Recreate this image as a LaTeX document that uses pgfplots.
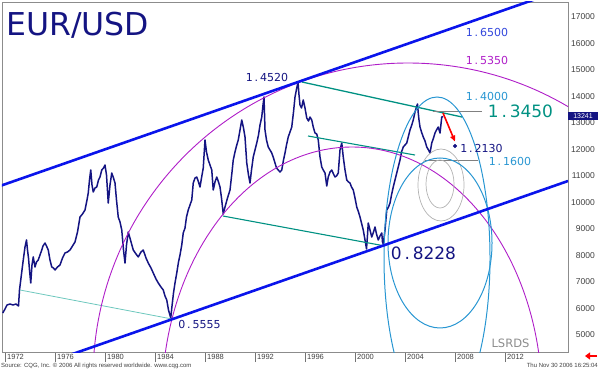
\documentclass[border=0pt]{standalone}
\usepackage{pgfplots}
\pgfplotsset{compat=1.18}
\usepackage{pgfplotstable}
\usepackage{fontspec}
\setmainfont{DejaVu Sans}
\newfontfamily\lib{Liberation Sans}
\usetikzlibrary{arrows.meta}
\definecolor{navy}{RGB}{20,20,130}
\definecolor{chanblue}{RGB}{10,20,235}
\definecolor{mag}{RGB}{175,30,200}
\definecolor{lblue}{RGB}{40,150,210}
\definecolor{teal2}{RGB}{0,145,130}
\definecolor{mint}{RGB}{110,200,190}
\definecolor{lab165}{RGB}{50,70,220}

\pgfplotstableread{
year price
1971.82 5830
1972.00 5981
1972.16 6131
1972.40 6169
1972.64 6131
1972.88 6169
1973.08 6094
1973.16 6698
1973.28 7151
1973.44 7755
1973.60 8321
1973.72 8585
1973.80 8208
1973.88 7906
1973.96 7453
1974.06 6963
1974.16 7642
1974.26 7944
1974.40 7566
1974.52 7755
1974.66 7830
1974.80 8019
1974.94 8208
1975.04 8358
1975.20 8472
1975.32 8358
1975.46 8208
1975.60 7830
1975.74 7566
1975.88 7528
1976.00 7453
1976.20 7566
1976.40 7642
1976.60 7906
1976.80 8095
1977.00 8133
1977.20 8208
1977.40 8358
1977.60 8510
1977.80 8887
1978.00 9453
1978.20 9566
1978.40 9717
1978.56 10094
1978.66 10359
1978.76 10849
1978.86 11226
1978.96 10661
1979.06 10397
1979.20 10547
1979.34 10585
1979.48 10849
1979.60 10962
1979.74 11226
1979.88 11302
1980.00 11415
1980.12 11038
1980.26 9981
1980.40 10661
1980.54 11113
1980.68 10924
1980.80 10736
1980.92 10094
1981.06 9453
1981.20 9264
1981.34 8963
1981.48 8208
1981.60 7717
1981.72 8396
1981.86 8887
1982.04 8585
1982.26 8208
1982.48 8057
1982.66 7944
1982.88 8133
1983.06 8208
1983.28 7906
1983.46 7717
1983.68 7528
1983.86 7340
1984.08 7113
1984.26 6963
1984.48 6811
1984.66 6698
1984.80 6472
1984.94 6321
1985.08 5943
1985.26 5642
1985.36 6094
1985.48 6585
1985.60 6963
1985.74 7340
1985.88 7755
1986.00 8019
1986.14 8396
1986.26 8850
1986.40 9038
1986.52 9453
1986.66 9717
1986.80 9906
1986.94 10094
1987.06 10736
1987.20 10924
1987.34 10962
1987.48 10774
1987.60 10585
1987.72 10924
1987.86 11302
1988.00 12358
1988.12 11906
1988.26 11604
1988.40 11415
1988.54 11226
1988.66 10472
1988.80 10774
1988.94 10962
1989.08 10774
1989.20 10585
1989.32 10170
1989.46 9566
1989.60 9830
1989.80 10170
1990.00 10472
1990.16 11151
1990.26 11604
1990.40 11906
1990.52 12132
1990.66 12358
1990.80 12736
1990.94 13113
1991.08 12811
1991.20 12472
1991.34 11491
1991.48 11038
1991.60 10736
1991.72 11226
1991.86 11717
1992.00 11981
1992.14 12245
1992.28 12547
1992.40 12925
1992.54 13226
1992.64 13679
1992.72 13981
1992.80 12736
1992.92 12358
1993.06 12094
1993.20 11981
1993.34 11868
1993.48 11679
1993.60 11491
1993.72 11302
1993.86 11226
1994.00 11151
1994.14 11226
1994.28 11604
1994.40 11868
1994.52 12170
1994.66 12472
1994.80 12660
1994.94 12849
1995.08 13415
1995.20 13981
1995.34 14321
1995.44 14547
1995.52 14057
1995.60 13679
1995.72 13566
1995.86 13868
1996.00 13566
1996.14 13188
1996.28 13075
1996.40 13226
1996.54 13113
1996.66 12849
1996.80 12622
1996.94 12585
1997.06 12358
1997.20 11717
1997.34 11340
1997.46 11226
1997.60 11113
1997.74 10623
1997.86 10962
1998.00 11151
1998.14 11226
1998.28 11075
1998.40 10962
1998.52 11000
1998.66 11113
1998.80 11981
1998.94 12245
1999.06 11717
1999.20 11226
1999.34 10849
1999.48 10774
1999.60 10736
1999.72 10585
1999.86 10472
2000.00 10170
2000.14 9830
2000.28 9641
2000.40 9453
2000.52 9226
2000.66 8963
2000.80 8585
2000.92 8246
2001.00 8774
2001.06 9226
2001.20 8963
2001.34 8698
2001.48 8887
2001.60 9075
2001.72 8811
2001.86 8585
2002.00 8736
2002.14 8850
2002.20 8510
2002.26 8434
2002.40 8963
2002.54 9717
2002.68 9830
2002.80 9981
2002.92 10283
2003.06 10585
2003.20 10849
2003.34 11113
2003.48 11377
2003.60 11604
2003.72 11906
2003.86 12094
2004.00 12170
2004.14 12245
2004.28 12509
2004.40 12736
2004.54 12925
2004.66 13113
2004.80 13415
2004.94 13641
2005.00 13717
2005.06 13377
2005.12 13113
2005.20 12849
2005.32 12660
2005.46 12472
2005.60 12321
2005.74 12094
2005.88 11981
2006.00 11868
2006.14 12245
2006.28 12434
2006.40 12622
2006.52 12736
2006.66 12849
2006.80 12622
2006.94 13226
2007.06 13241
}\eurusd

\begin{document}
\begin{tikzpicture}[x=1pt,y=1pt]
\path[use as bounding box] (0,0) rectangle (600,370);
\begin{axis}[
  at={(2pt,18pt)}, anchor=south west,
  scale only axis, width=566pt, height=350pt,
  xmin=1971.76, xmax=2017.04, ymin=4358.5, ymax=17566,
  axis line style={black!45, line width=0.6pt},
  xtick={1972,1976,...,2012},
  ytick={5000,6000,...,17000},
  scaled y ticks=false,
  scaled x ticks=false,
  xtick pos=lower,
  yticklabel pos=right,
  tick align=outside,
  major tick length=10pt,
  ytick style={draw=none},
  xtick style={black!55, line width=0.5pt},
  /pgf/number format/1000 sep={},
  /pgf/number format/assume math mode=true,
  xticklabel style={anchor=north west, inner sep=0pt, font=\lib\fontsize{7.5}{8}\selectfont, text=black!75, xshift=2pt, yshift=8pt},
  yticklabel style={anchor=east, inner sep=0pt, font=\lib\fontsize{8.5}{9}\selectfont, text=black!75, xshift=17pt},
]
% price
\addplot[navy, line width=1.5pt, line join=round, mark=none] table[x=year,y=price]{\eurusd};
% teal lines
\addplot[teal2, line width=1.3pt] coordinates {(1995.76,14547) (2008.56,13226)};
\addplot[teal2, line width=1.1pt] coordinates {(1996.24,12509) (2004.8,11792)};
\addplot[teal2, line width=1.1pt] coordinates {(1989.44,9490) (2002.4,8358)};
\addplot[mint, line width=0.8pt] coordinates {(1973.2,6698) (1985.36,5604)};
% gray level lines
\addplot[black!50, line width=0.8pt] coordinates {(2006.24,13450) (2010.16,13450)};
\addplot[black!50, line width=0.8pt] coordinates {(2005.6,11600) (2009.84,11600)};
% magenta arcs
\draw[mag, line width=0.9pt] (axis cs:2004.24,3377) circle[radius=315pt];
\draw[mag, line width=0.9pt] (axis cs:1999.76,2547) ellipse[x radius=190pt, y radius=253pt];
% gray ellipses
\draw[black!30, line width=0.7pt] (axis cs:2006.88,10660) ellipse[x radius=23pt, y radius=36pt];
\draw[black!30, line width=0.7pt] (axis cs:2006.8,10698) ellipse[x radius=14pt, y radius=24pt];
% light blue ellipses
\draw[lblue, line width=1pt] (axis cs:2006.56,7906) ellipse[x radius=53pt, y radius=161pt];
\draw[lblue, line width=1pt] (axis cs:2006.8,8472) ellipse[x radius=52pt, y radius=85pt];
% channel lines
\addplot[chanblue, line width=2.6pt] coordinates {(1971.6,10623) (2017.04,18102)};
\addplot[chanblue, line width=2.6pt] coordinates {(1977.2,4249) (2017.04,10811)};
% projection arrow and target
\addplot[red, line width=1.6pt, -{Triangle[length=6pt,width=5pt]}] coordinates {(2007.04,13377) (2008.0,12300)};
\addplot[only marks, mark=*, mark size=1.8pt, navy] coordinates {(2008.0,12130)};
\end{axis}
% labels
\node[anchor=west, inner sep=0pt, text=navy, font=\fontsize{31.5}{34}\selectfont] at (6,345) {EUR/USD};
\begin{scope}[every node/.style={inner sep=0pt, font=\fontsize{11}{12}\selectfont}]
\node[text=lab165] at (487,338) {1\,.\,6500};
\node[text=mag] at (487,310) {1\,.\,5350};
\node[text=navy] at (267,293) {1\,.\,4520};
\node[text=lblue] at (487,274) {1\,.\,4000};
\node[text=navy] at (481.5,222) {1\,.\,2130};
\node[text=lblue] at (510,209) {1\,.\,1600};
\node[text=navy] at (199.5,46) {0\,.\,5555};
\node[text=teal2, font=\fontsize{17}{18}\selectfont] at (520.5,259) {1\,.\,3450};
\node[text=navy, font=\fontsize{17}{18}\selectfont] at (423.5,117) {0\,.\,8228};
\node[text=black!45, font=\fontsize{11.5}{12}\selectfont] at (510.5,27) {LSRDS};
\end{scope}
% last price box
\fill[navy] (568,250) rectangle (598,258);
\node[inner sep=0pt, text=white, font=\lib\fontsize{7}{7}\selectfont] at (583,254) {13241};
% footer
\node[anchor=west, inner sep=0pt, text=black!75, font=\lib\fontsize{6}{7}\selectfont] at (1,4.5) {Source: CQG, Inc. \copyright{} 2006 All rights reserved worldwide. www.cqg.com};
\node[anchor=east, inner sep=0pt, text=black!75, font=\lib\fontsize{6}{7}\selectfont] at (598,4.5) {Thu Nov 30 2006 16:25:04};
\draw[red, line width=2.2pt, -{Triangle[length=5pt,width=7pt]}] (597,14) -- (585,14);
\end{tikzpicture}
\end{document}
